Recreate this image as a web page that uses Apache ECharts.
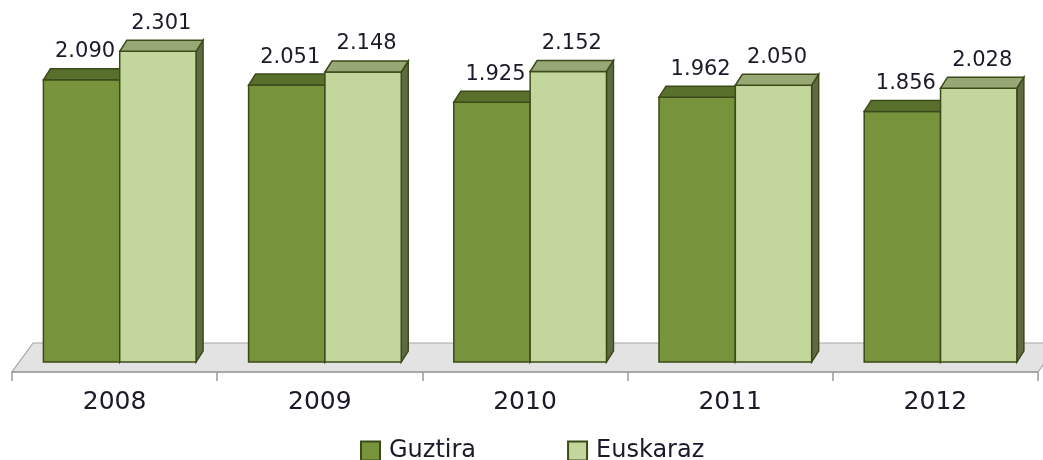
<!DOCTYPE html>
<html>
<head>
<meta charset="utf-8">
<script src="https://cdn.jsdelivr.net/npm/echarts@6/dist/echarts.min.js"></script>
<style>
  html, body { margin: 0; padding: 0; background: #fff; }
  #chart { width: 1043px; height: 460px; }
</style>
</head>
<body>
<div id="chart"></div>
<script>
// data
const years = ['2008', '2009', '2010', '2011', '2012'];
const guztira = [2090, 2051, 1925, 1962, 1856];
const euskaraz = [2301, 2148, 2152, 2050, 2028];

const FONT = 'DejaVu Sans';
const DX = 7, DY = -11; // 3d depth of the bars

const fmt = v => {
  const s = String(v);
  return s.length > 3 ? s.slice(0, s.length - 3) + '.' + s.slice(-3) : s;
};

// one 3d bar: front, top and right side faces + value label
function bar3d(side, front, topFill, sideFill) {
  return function (params, api) {
    const i = api.value(0);
    const v = api.value(1);
    const pt = api.coord([i, v]);
    const base = api.coord([i, 0])[1];
    const bw = api.size([1, 0])[0];
    const w = bw * 0.372;
    const shift = bw * 0.025;
    const left = side < 0 ? pt[0] + shift - w : pt[0] + shift;
    const top = pt[1];
    const right = left + w;
    const stroke = { stroke: '#3c4a1a', lineWidth: 1.5 };
    return {
      type: 'group',
      children: [
        {
          type: 'polygon',
          shape: { points: [[right, top], [right + DX, top + DY], [right + DX, base + DY], [right, base]] },
          style: Object.assign({ fill: sideFill }, stroke)
        },
        {
          type: 'rect',
          shape: { x: left, y: top, width: w, height: base - top },
          style: Object.assign({ fill: front }, stroke)
        },
        {
          type: 'polygon',
          shape: { points: [[left, top], [left + DX, top + DY], [right + DX, top + DY], [right, top]] },
          style: Object.assign({ fill: topFill }, stroke)
        },
        {
          type: 'text',
          style: {
            text: fmt(v),
            x: left + w / 2 + DX / 2,
            y: top - 28,
            align: 'center',
            verticalAlign: 'middle',
            fill: '#1a1a2a',
            font: '21px "' + FONT + '"'
          }
        }
      ]
    };
  };
}

const chart = echarts.init(document.getElementById('chart'));

chart.setOption({
  animation: false,
  grid: { left: 12, right: 5, top: 24.5, bottom: 98 },
  legend: {
    data: ['Guztira', 'Euskaraz'],
    left: 360,
    top: 439,
    padding: 0,
    icon: 'rect',
    itemWidth: 19,
    itemHeight: 19,
    itemGap: 91,
    textStyle: { fontFamily: FONT, fontSize: 24, color: '#1a1a2a', padding: [0, 0, 0, 4] }
  },
  xAxis: {
    type: 'category',
    data: years,
    offset: 10,
    z: 10,
    axisLine: { show: true, onZero: false, lineStyle: { color: '#9a9a9a', width: 1.5 } },
    axisTick: { show: true, interval: 0, length: 9, lineStyle: { color: '#9a9a9a', width: 1.5 } },
    axisLabel: { fontFamily: FONT, fontSize: 25, color: '#1a1a2a', margin: 18 }
  },
  yAxis: {
    type: 'value',
    min: 0,
    max: 2500,
    show: false
  },
  series: [
    {
      name: 'floor',
      type: 'custom',
      silent: true,
      clip: false,
      z: 1,
      data: [[0, 0]],
      renderItem: function (params, api) {
        const cs = params.coordSys;
        const x0 = cs.x, x1 = cs.x + cs.width;
        const base = cs.y + cs.height;
        return {
          type: 'polygon',
          shape: { points: [[x0, base + 10], [x1, base + 10], [x1 + 21, base - 19], [x0 + 21, base - 19]] },
          style: { fill: '#e3e3e3', stroke: '#a8a8a8', lineWidth: 1.2 }
        };
      }
    },
    {
      name: 'Guztira',
      type: 'custom',
      clip: false,
      z: 2,
      itemStyle: { color: '#77933c', borderColor: '#3c4a1a', borderWidth: 1.5 },
      data: guztira.map((v, i) => [i, v]),
      renderItem: bar3d(-1, '#77933c', '#58702c', '#4d5f25')
    },
    {
      name: 'Euskaraz',
      type: 'custom',
      clip: false,
      z: 3,
      itemStyle: { color: '#c3d69b', borderColor: '#3c4a1a', borderWidth: 1.5 },
      data: euskaraz.map((v, i) => [i, v]),
      renderItem: bar3d(1, '#c3d69b', '#98a874', '#5f6a45')
    }
  ]
});
</script>
</body>
</html>
